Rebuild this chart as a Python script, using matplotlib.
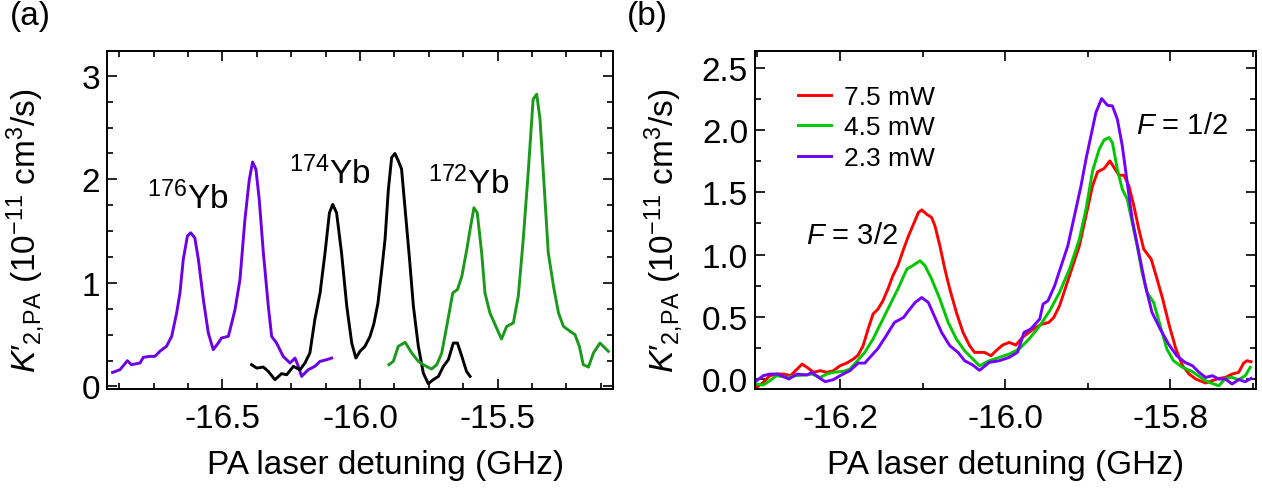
import numpy as np
import matplotlib
matplotlib.use('Agg')
import matplotlib.pyplot as plt
from matplotlib.ticker import MultipleLocator, FormatStrFormatter

plt.rcParams['font.family'] = ['Liberation Sans', 'DejaVu Sans']
plt.rcParams['mathtext.fontset'] = 'custom'
plt.rcParams['mathtext.rm'] = 'Liberation Sans'
plt.rcParams['mathtext.it'] = 'Liberation Sans:italic'
plt.rcParams['mathtext.bf'] = 'Liberation Sans:bold'
plt.rcParams['axes.unicode_minus'] = False

# ---------------- (a) donnees : trois isotopes ----------------
x176 = [-16.899, -16.872, -16.845, -16.830, -16.799, -16.787, -16.763, -16.745, -16.727, -16.703,
        -16.684, -16.666, -16.654, -16.642, -16.627, -16.615, -16.600, -16.587, -16.569, -16.551,
        -16.533, -16.515, -16.503, -16.478, -16.454, -16.436, -16.418, -16.402, -16.390, -16.378,
        -16.366, -16.351, -16.333, -16.321, -16.303, -16.279, -16.254, -16.236, -16.224, -16.212,
        -16.188, -16.164, -16.145, -16.121, -16.103]
y176 = [0.135, 0.161, 0.248, 0.210, 0.226, 0.281, 0.290, 0.290, 0.339, 0.387,
        0.484, 0.710, 0.903, 1.226, 1.452, 1.484, 1.435, 1.226, 0.839, 0.516,
        0.355, 0.419, 0.468, 0.484, 0.742, 1.032, 1.613, 2.000, 2.168, 2.097,
        1.806, 1.290, 0.774, 0.484, 0.419, 0.290, 0.226, 0.274, 0.194, 0.097,
        0.161, 0.194, 0.242, 0.258, 0.274]

x174 = [-16.394, -16.375, -16.351, -16.333, -16.309, -16.285, -16.266, -16.242, -16.218, -16.200,
        -16.182, -16.164, -16.145, -16.127, -16.111, -16.099, -16.085, -16.067, -16.048, -16.030,
        -16.015, -16.000, -15.982, -15.964, -15.950, -15.935, -15.922, -15.909, -15.897, -15.885,
        -15.873, -15.861, -15.849, -15.836, -15.821, -15.806, -15.788, -15.770, -15.752, -15.734,
        -15.715, -15.697, -15.679, -15.661, -15.646, -15.630, -15.613, -15.600]
y174 = [0.210, 0.177, 0.187, 0.145, 0.065, 0.123, 0.113, 0.194, 0.161, 0.226,
        0.323, 0.645, 0.903, 1.290, 1.677, 1.758, 1.677, 1.290, 0.774, 0.419,
        0.274, 0.339, 0.387, 0.480, 0.600, 0.800, 1.100, 1.420, 1.900, 2.210,
        2.250, 2.180, 2.100, 1.710, 1.260, 0.774, 0.387, 0.129, 0.026, 0.065,
        0.097, 0.194, 0.258, 0.419, 0.419, 0.290, 0.145, 0.097]

x172 = [-15.895, -15.879, -15.861, -15.836, -15.812, -15.788, -15.770, -15.740, -15.721, -15.703,
        -15.685, -15.663, -15.646, -15.630, -15.612, -15.600, -15.586, -15.574, -15.558, -15.546,
        -15.528, -15.504, -15.486, -15.467, -15.443, -15.425, -15.407, -15.389, -15.371, -15.358,
        -15.346, -15.334, -15.316, -15.297, -15.279, -15.261, -15.237, -15.219, -15.203, -15.189,
        -15.170, -15.152, -15.128, -15.110, -15.098]
y172 = [0.210, 0.242, 0.387, 0.426, 0.323, 0.242, 0.210, 0.168, 0.210, 0.323,
        0.580, 0.903, 0.935, 1.065, 1.323, 1.516, 1.726, 1.677, 1.290, 0.903,
        0.710, 0.565, 0.458, 0.580, 0.613, 0.871, 1.420, 2.065, 2.774, 2.823,
        2.580, 2.065, 1.290, 0.968, 0.710, 0.580, 0.532, 0.500, 0.387, 0.210,
        0.187, 0.323, 0.419, 0.371, 0.339]

# ---------------- (b) donnees : trois puissances ----------------
x75 = [-16.301, -16.293, -16.285, -16.277, -16.268, -16.260, -16.252, -16.246, -16.240, -16.232,
       -16.224, -16.216, -16.208, -16.200, -16.192, -16.184, -16.178, -16.172, -16.166, -16.160,
       -16.154, -16.148, -16.142, -16.136, -16.130, -16.123, -16.117, -16.111, -16.105, -16.101,
       -16.095, -16.089, -16.085, -16.079, -16.073, -16.067, -16.059, -16.051, -16.043, -16.037,
       -16.031, -16.025, -16.017, -16.011, -16.003, -15.995, -15.987, -15.979, -15.971, -15.963,
       -15.955, -15.947, -15.941, -15.934, -15.926, -15.918, -15.910, -15.902, -15.894, -15.888,
       -15.880, -15.873, -15.868, -15.862, -15.856, -15.850, -15.844, -15.838, -15.832, -15.823,
       -15.817, -15.809, -15.801, -15.793, -15.785, -15.777, -15.769, -15.757, -15.749, -15.741,
       -15.733, -15.725, -15.717, -15.711, -15.707, -15.702]
y75 = [-0.067, -0.027, 0.027, 0.040, 0.040, 0.027, 0.080, 0.120, 0.094, 0.054,
       0.067, 0.054, 0.067, 0.107, 0.128, 0.160, 0.193, 0.268, 0.401, 0.522,
       0.562, 0.629, 0.722, 0.829, 0.910, 1.043, 1.150, 1.244, 1.338, 1.359,
       1.324, 1.297, 1.231, 1.070, 0.883, 0.722, 0.535, 0.375, 0.268, 0.214,
       0.214, 0.214, 0.187, 0.227, 0.273, 0.294, 0.273, 0.334, 0.375, 0.415,
       0.441, 0.455, 0.495, 0.589, 0.749, 0.910, 1.070, 1.311, 1.552, 1.664,
       1.691, 1.752, 1.699, 1.637, 1.637, 1.552, 1.391, 1.204, 1.043, 0.963,
       0.829, 0.642, 0.428, 0.241, 0.107, 0.040, 0.000, -0.032, -0.013, 0.005,
       0.013, 0.040, 0.054, 0.128, 0.147, 0.139]

x45 = [-16.301, -16.293, -16.285, -16.277, -16.264, -16.254, -16.244, -16.234, -16.224, -16.216,
       -16.208, -16.196, -16.188, -16.180, -16.170, -16.160, -16.150, -16.140, -16.130, -16.119,
       -16.111, -16.103, -16.097, -16.089, -16.079, -16.069, -16.059, -16.049, -16.039, -16.031,
       -16.019, -16.007, -15.995, -15.983, -15.971, -15.958, -15.946, -15.934, -15.922, -15.910,
       -15.902, -15.894, -15.886, -15.880, -15.874, -15.870, -15.864, -15.858, -15.852, -15.846,
       -15.840, -15.834, -15.828, -15.820, -15.812, -15.804, -15.796, -15.785, -15.773, -15.763,
       -15.755, -15.741, -15.733, -15.725, -15.717, -15.709, -15.703]
y45 = [-0.040, -0.048, -0.013, 0.027, 0.013, 0.027, 0.032, 0.040, 0.013, 0.040,
       0.054, 0.062, 0.080, 0.139, 0.214, 0.321, 0.455, 0.589, 0.722, 0.883,
       0.915, 0.950, 0.910, 0.803, 0.642, 0.455, 0.321, 0.227, 0.160, 0.107,
       0.147, 0.174, 0.201, 0.241, 0.321, 0.428, 0.548, 0.696, 0.883, 1.124,
       1.364, 1.672, 1.846, 1.921, 1.940, 1.899, 1.685, 1.525, 1.445, 1.257,
       1.070, 0.856, 0.696, 0.615, 0.428, 0.241, 0.147, 0.094, 0.059, 0.013,
       -0.021, -0.054, 0.005, 0.013, -0.005, 0.027, 0.094]

x23 = [-16.301, -16.293, -16.285, -16.275, -16.262, -16.252, -16.240, -16.234, -16.226, -16.218,
       -16.208, -16.200, -16.188, -16.178, -16.170, -16.162, -16.154, -16.144, -16.134, -16.123,
       -16.117, -16.109, -16.101, -16.093, -16.085, -16.077, -16.067, -16.057, -16.049, -16.039,
       -16.031, -16.019, -16.007, -15.995, -15.985, -15.977, -15.969, -15.958, -15.954, -15.948,
       -15.940, -15.932, -15.924, -15.916, -15.908, -15.902, -15.896, -15.890, -15.883, -15.876,
       -15.870, -15.864, -15.858, -15.852, -15.846, -15.838, -15.830, -15.822, -15.812, -15.802,
       -15.792, -15.782, -15.773, -15.765, -15.757, -15.749, -15.741, -15.733, -15.725, -15.717,
       -15.709, -15.702]
y23 = [-0.013, 0.027, 0.040, 0.040, 0.000, 0.040, 0.032, 0.054, 0.013, -0.021,
       -0.005, 0.027, 0.067, 0.128, 0.128, 0.187, 0.246, 0.348, 0.455, 0.495,
       0.548, 0.615, 0.655, 0.615, 0.495, 0.375, 0.268, 0.214, 0.147, 0.112,
       0.070, 0.134, 0.147, 0.174, 0.214, 0.375, 0.401, 0.482, 0.602, 0.629,
       0.749, 0.910, 1.070, 1.311, 1.552, 1.766, 1.953, 2.140, 2.253, 2.199,
       2.194, 2.087, 1.873, 1.578, 1.284, 1.017, 0.749, 0.535, 0.401, 0.281,
       0.187, 0.134, 0.107, 0.054, 0.013, 0.027, 0.000, 0.000, -0.040, -0.005,
       -0.021, 0.005]

legend_labels = ['7.5 mW', '4.5 mW', '2.3 mW']

ylab = "$K\u2032_{2,\\!\\mathrm{PA}}$ (10$^{-11}$ cm$^3$/s)"
xlab = 'PA laser detuning (GHz)'

fig = plt.figure(figsize=(12.62, 4.89), dpi=100)
ax1 = fig.add_axes([107/1262, 99/489, 505.7/1262, 338/489])
ax2 = fig.add_axes([755/1262, 99/489, 501/1262, 338/489])

# ----- panneau (a)
ax1.plot(x176, y176, color='#6e00e6', lw=2.1)
ax1.plot(x174, y174, color='black', lw=2.1)
ax1.plot(x172, y172, color='#1a9a1a', lw=2.1)
ax1.set_xlim(-16.919, -15.082)
ax1.set_ylim(-0.025, 3.24)
ax1.xaxis.set_major_locator(MultipleLocator(0.5))
ax1.xaxis.set_minor_locator(MultipleLocator(0.125))
ax1.yaxis.set_major_locator(MultipleLocator(1))
ax1.yaxis.set_minor_locator(MultipleLocator(0.25))
ax1.xaxis.set_major_formatter(FormatStrFormatter('%.1f'))
ax1.yaxis.set_major_formatter(FormatStrFormatter('%d'))
ax1.text(-16.625, 1.727, r"$^{176}$Yb", fontsize=24, ha='center', va='baseline')
ax1.text(-16.111, 1.962, r"$^{174}$Yb", fontsize=24, ha='center', va='baseline')
ax1.text(-15.604, 1.872, r"$^{172}$Yb", fontsize=24, ha='center', va='baseline')

# ----- panneau (b)
ax2.plot(x75, y75, color='#ff0000', lw=2.1, label=legend_labels[0])
ax2.plot(x45, y45, color='#00c800', lw=2.1, label=legend_labels[1])
ax2.plot(x23, y23, color='#7300ff', lw=2.1, label=legend_labels[2])
ax2.set_xlim(-16.303, -15.696)
ax2.set_ylim(-0.08, 2.635)
ax2.xaxis.set_major_locator(MultipleLocator(0.2))
ax2.xaxis.set_minor_locator(MultipleLocator(0.1))
ax2.yaxis.set_major_locator(MultipleLocator(0.5))
ax2.yaxis.set_minor_locator(MultipleLocator(0.25))
ax2.xaxis.set_major_formatter(FormatStrFormatter('%.1f'))
ax2.yaxis.set_major_formatter(FormatStrFormatter('%.1f'))
ax2.text(-16.185, 1.091, r"$F$ = 3/2", fontsize=21, ha='center', va='baseline')
ax2.text(-15.786, 1.974, r"$F$ = 1/2", fontsize=21, ha='center', va='baseline')
ax2.legend(loc='upper left', bbox_to_anchor=(0.086, 0.90), frameon=False, fontsize=19,
           borderpad=0, borderaxespad=0, handlelength=1.25, handletextpad=0.5,
           labelspacing=0.25)

for ax in (ax1, ax2):
    ax.tick_params(which='both', direction='in', top=True, right=True, width=1.2, labelsize=24)
    ax.tick_params(which='major', length=7)
    ax.tick_params(which='minor', length=4)
    ax.tick_params(axis='x', pad=10)
    ax.tick_params(axis='y', pad=5)
    for s in ax.spines.values():
        s.set_linewidth(1.4)
    ax.set_xlabel(xlab, fontsize=24)
    ax.set_ylabel(ylab, fontsize=24)

ax1.xaxis.set_label_coords(0.55, -0.178)
ax2.xaxis.set_label_coords(0.5, -0.178)
ax1.yaxis.set_label_coords(-0.118, 0.47)
ax2.yaxis.set_label_coords(-0.14, 0.47)

fig.text(10/1262, 1 - 1.5/489, '(a)', fontsize=24, ha='left', va='top')
fig.text(627/1262, 1 - 1.5/489, '(b)', fontsize=24, ha='left', va='top')

fig.savefig('out.png', dpi=100)
